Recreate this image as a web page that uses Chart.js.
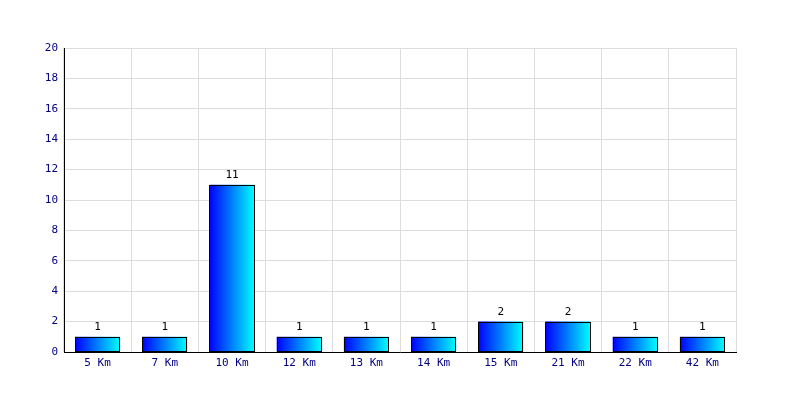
<!DOCTYPE html>
<html>
<head>
<meta charset="utf-8">
<script src="https://cdn.jsdelivr.net/npm/chart.js@4.4.0/dist/chart.umd.min.js"></script>
<style>
  html, body { margin: 0; padding: 0; background: #fff; }
  #wrap { width: 800px; height: 400px; }
</style>
</head>
<body>
<div id="wrap"><canvas id="chart" width="800" height="400"></canvas></div>
<script>
// chart data
const distances = ["5 Km", "7 Km", "10 Km", "12 Km", "13 Km", "14 Km", "15 Km", "21 Km", "22 Km", "42 Km"];
const counts = [1, 1, 11, 1, 1, 1, 2, 2, 1, 1];
const yMax = 20;
const yStep = 2;

const FONT = "'DejaVu Sans Mono', monospace";

// horizontal blue -> cyan gradient per bar
const gradientBars = {
  id: "gradientBars",
  beforeDatasetsDraw(chart) {
    const ctx = chart.ctx;
    chart.getDatasetMeta(0).data.forEach(bar => {
      const half = bar.width / 2;
      const g = ctx.createLinearGradient(bar.x - half, 0, bar.x + half, 0);
      g.addColorStop(0, "#0000ff");
      g.addColorStop(1, "#00ffff");
      bar.options.backgroundColor = g;
    });
  }
};

// crisp black outline + value labels above the bars
const barExtras = {
  id: "barExtras",
  afterDatasetsDraw(chart) {
    const ctx = chart.ctx;
    ctx.save();
    ctx.strokeStyle = "#000";
    ctx.lineWidth = 1;
    chart.getDatasetMeta(0).data.forEach(bar => {
      const l = Math.round(bar.x - bar.width / 2);
      const r = Math.round(bar.x + bar.width / 2);
      const t = Math.round(bar.y);
      const b = Math.round(bar.base);
      ctx.strokeRect(l + 0.5, t + 0.5, r - l - 1, b - t - 1);
    });
    ctx.font = "11px " + FONT;
    ctx.fillStyle = "#000";
    ctx.textAlign = "center";
    ctx.textBaseline = "bottom";
    chart.getDatasetMeta(0).data.forEach((bar, i) => {
      ctx.fillText(String(counts[i]), bar.x, bar.y - 4);
    });
    ctx.restore();
  }
};

new Chart(document.getElementById("chart").getContext("2d"), {
  type: "bar",
  data: {
    labels: distances,
    datasets: [{
      data: counts,
      // scriptable so every bar keeps its own options object
      backgroundColor: () => "#0000ff",
      borderWidth: 0,
      barPercentage: 0.67,
      categoryPercentage: 1
    }]
  },
  options: {
    responsive: false,
    animation: false,
    layout: { padding: { left: 0, top: 48, right: 64, bottom: 0 } },
    plugins: {
      legend: { display: false },
      tooltip: { enabled: false }
    },
    scales: {
      x: {
        afterFit(scale) { scale.height = 48; },
        grid: { color: "#dddddd", offset: true, drawTicks: false },
        border: { color: "#000", width: 1 },
        ticks: { color: "#000080", font: { family: FONT, size: 11 }, padding: 5, maxRotation: 0 }
      },
      y: {
        min: 0,
        max: yMax,
        afterFit(scale) { scale.width = 64; },
        grid: { color: "#dddddd", drawTicks: false },
        border: { color: "#000", width: 1 },
        ticks: { stepSize: yStep, color: "#000080", font: { family: FONT, size: 11 }, padding: 6 }
      }
    }
  },
  plugins: [gradientBars, barExtras]
});
</script>
</body>
</html>
